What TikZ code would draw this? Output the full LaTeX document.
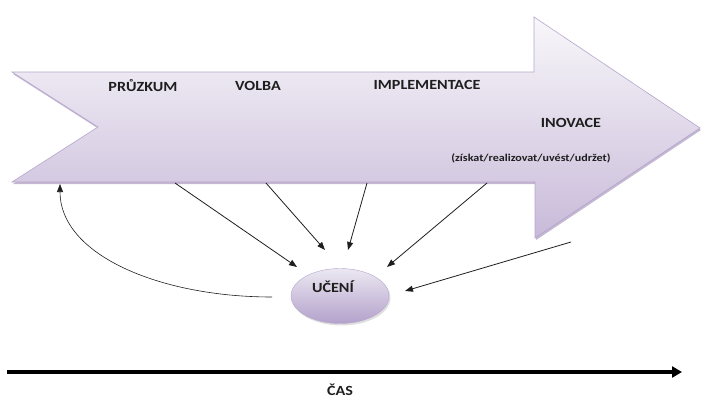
\documentclass[tikz,border=0pt]{standalone}
\usepackage{fontspec}
\setmainfont{Carlito}[FakeStretch=1.15]
\usetikzlibrary{arrows.meta,shadows,shapes.geometric}

\definecolor{arrowTop}{HTML}{F8F7FA}
\definecolor{arrowBot}{HTML}{C8BAD9}
\definecolor{arrowEdge}{HTML}{B6A6CC}
\definecolor{arrowShade}{HTML}{A999BF}
\definecolor{bubbleLight}{HTML}{ECE8F2}
\definecolor{bubbleDark}{HTML}{B3A1CB}
\definecolor{ink}{HTML}{1E1E1E}

\tikzset{
  phase/.style={font=\bfseries\fontsize{14}{16}\selectfont, text=ink, inner sep=0pt},
  subphase/.style={font=\bfseries\fontsize{10.5}{12}\selectfont, text=ink, inner sep=0pt},
  feed/.style={draw=ink, line width=0.8pt, -{Triangle[length=8pt,width=6pt]}},
  timeline/.style={draw=black, line width=4pt, -{Triangle[length=10pt,width=11pt]}},
  bubble/.style={ellipse, minimum width=98pt, minimum height=55pt, inner sep=0pt,
    draw=arrowEdge, line width=0.4pt, shading angle=25,
    top color=bubbleLight, bottom color=bubbleDark,
    drop shadow={opacity=0.25, shadow xshift=1.5pt, shadow yshift=-2pt}},
}

\begin{document}
\begin{tikzpicture}[x=1pt, y=-1pt]
\useasboundingbox (0,0) rectangle (701,399);

% process arrow: soft shadow, then the shaded body
\fill[arrowShade, opacity=0.7, shift={(1,2)}]
  (12,72) -- (534,72) -- (534,17) -- (700,128) -- (535,238) -- (535,182)
  -- (12,182) -- (98,127) -- cycle;
\draw[arrowEdge, line width=0.6pt, top color=arrowTop, bottom color=arrowBot]
  (12,72) -- (534,72) -- (534,17) -- (700,128) -- (535,238) -- (535,182)
  -- (12,182) -- (98,127) -- cycle;

% phase labels
\node[phase] (pruzkum) at (143,86) {PRŮZKUM};
\node[phase] (volba) at (258,86) {VOLBA};
\node[phase] (impl) at (427,85) {IMPLEMENTACE};
\node[phase] (inovace) at (571,123) {INOVACE};
\node[subphase] (inosub) at (531,158) {(získat/realizovat/uvést/udržet)};

% learning bubble
\node[bubble] (uceni) at (340,296) {};
\node[phase] (ucenitext) at (333,287) {UČENÍ};

% connector end points
\coordinate (s1) at (175,183);
\coordinate (s2) at (266,183);
\coordinate (s3) at (367,183);
\coordinate (s4) at (487,183);
\coordinate (s5) at (571,242);
\coordinate (t1) at (297,267);
\coordinate (t2) at (325,250);
\coordinate (t3) at (348,250);
\coordinate (t4) at (387,267);
\coordinate (t5) at (405,291);
\coordinate (back0) at (272,297);
\coordinate (back1) at (60,184);

\draw[feed] (s1) -- (t1);
\draw[feed] (s2) -- (t2);
\draw[feed] (s3) -- (t3);
\draw[feed] (s4) -- (t4);
\draw[feed] (s5) -- (t5);
\draw[feed, line width=0.6pt] (back0) .. controls (160,297) and (60,255) .. (back1);

% time axis
\coordinate (time0) at (7,372);
\coordinate (time1) at (682,372);
\draw[timeline] (time0) -- (time1);
\node[phase] (cas) at (340,390) {ČAS};
\end{tikzpicture}
\end{document}
